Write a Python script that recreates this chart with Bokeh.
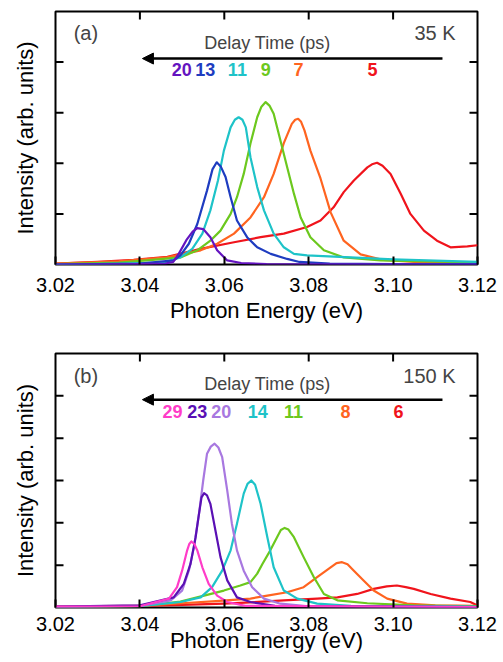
from bokeh.plotting import figure
from bokeh.layouts import column
from bokeh.models import (Range1d, FixedTicker, PrintfTickFormatter,
                          Label, Arrow, NormalHead)
from bokeh.embed import file_html
from bokeh.resources import INLINE

FONT = "Liberation Sans"

# ---------------- data: panel (a) 35 K ----------------
a_red5_x = [3.020, 3.030, 3.0385, 3.0465, 3.0544, 3.0623, 3.0686, 3.0741, 3.0796, 3.0828, 3.0859,
            3.0883, 3.0907, 3.0939, 3.0950, 3.0962, 3.0975, 3.0994, 3.1018, 3.1041, 3.1073, 3.1104,
            3.1136, 3.1176, 3.120]
a_red5_y = [0.02, 0.05, 0.09, 0.15, 0.31, 0.44, 0.54, 0.61, 0.74, 0.87, 1.13,
            1.43, 1.66, 1.92, 1.98, 2.01, 1.95, 1.79, 1.40, 1.00, 0.67, 0.47,
            0.34, 0.36, 0.38]
a_or7_x = [3.020, 3.035, 3.0465, 3.0544, 3.0583, 3.0623, 3.0662, 3.0694, 3.0717, 3.0741, 3.0760,
           3.0768, 3.0775, 3.0782, 3.0790, 3.0804, 3.0828, 3.0852, 3.0883, 3.0923, 3.0977, 3.105, 3.120]
a_or7_y = [0.02, 0.06, 0.14, 0.28, 0.41, 0.61, 0.93, 1.33, 1.79, 2.40, 2.78,
           2.86, 2.88, 2.82, 2.65, 2.25, 1.70, 1.03, 0.47, 0.20, 0.09, 0.05, 0.04]
a_gr9_x = [3.020, 3.035, 3.0417, 3.0496, 3.0536, 3.0567, 3.0591, 3.0615, 3.0630, 3.0646, 3.0662,
           3.0678, 3.0688, 3.0698, 3.0707, 3.0717, 3.0733, 3.0749, 3.0765, 3.0781, 3.0804, 3.0836,
           3.0883, 3.097, 3.120]
a_gr9_y = [0.01, 0.04, 0.08, 0.14, 0.28, 0.47, 0.67, 1.00, 1.33, 1.79, 2.39,
           2.91, 3.12, 3.21, 3.14, 2.98, 2.45, 1.92, 1.40, 0.93, 0.54, 0.28,
           0.14, 0.08, 0.04]
a_cy11_x = [3.020, 3.035, 3.0457, 3.0496, 3.0524, 3.0548, 3.0567, 3.0585, 3.0599, 3.0615, 3.0625,
            3.0634, 3.0643, 3.0651, 3.0662, 3.0678, 3.0694, 3.0717, 3.0741, 3.0765, 3.0796, 3.0899,
            3.100, 3.120]
a_cy11_y = [0.00, 0.02, 0.04, 0.14, 0.31, 0.61, 1.07, 1.66, 2.25, 2.71, 2.86,
            2.91, 2.86, 2.71, 2.12, 1.53, 1.07, 0.61, 0.34, 0.21, 0.18, 0.14,
            0.10, 0.05]
a_bl13_x = [3.020, 3.040, 3.048, 3.0496, 3.0516, 3.0536, 3.0559, 3.0572, 3.0582, 3.0592, 3.0603,
            3.0615, 3.0630, 3.0654, 3.0678, 3.0710, 3.0749, 3.0778, 3.085, 3.100, 3.120]
a_bl13_y = [0.00, 0.02, 0.08, 0.18, 0.41, 0.80, 1.46, 1.88, 2.02, 1.93, 1.73,
            1.33, 0.87, 0.54, 0.34, 0.21, 0.11, 0.05, 0.02, 0.01, 0.01]
a_pu20_x = [3.020, 3.040, 3.046, 3.0479, 3.0492, 3.0510, 3.0525, 3.0536, 3.0550, 3.0567, 3.0583,
            3.0607, 3.064, 3.070, 3.120]
a_pu20_y = [0.00, 0.01, 0.02, 0.05, 0.21, 0.48, 0.65, 0.72, 0.70, 0.54, 0.28,
            0.08, 0.03, 0.01, 0.00]

# ---------------- data: panel (b) 150 K ----------------
b_red6_x = [3.020, 3.040, 3.050, 3.060, 3.0662, 3.0741, 3.0820, 3.0868, 3.0915, 3.0954, 3.0985,
            3.1009, 3.1030, 3.1049, 3.1089, 3.1136, 3.1183, 3.120]
b_red6_y = [0.03, 0.04, 0.06, 0.09, 0.12, 0.17, 0.21, 0.24, 0.32, 0.44, 0.50,
            0.52, 0.48, 0.44, 0.32, 0.21, 0.13, 0.05]
b_or8_x = [3.020, 3.040, 3.050, 3.058, 3.0662, 3.0702, 3.0749, 3.0788, 3.0820, 3.0852, 3.0866,
           3.0879, 3.0892, 3.0907, 3.0930, 3.0954, 3.0986, 3.1033, 3.110, 3.120]
b_or8_y = [0.02, 0.04, 0.10, 0.15, 0.21, 0.28, 0.36, 0.48, 0.72, 0.95, 1.05,
           1.07, 1.02, 0.87, 0.64, 0.40, 0.21, 0.09, 0.05, 0.04]
b_gr11_x = [3.020, 3.040, 3.0496, 3.0552, 3.0599, 3.0638, 3.0662, 3.0678, 3.0690, 3.0709, 3.0725,
            3.0734, 3.0743, 3.0752, 3.0765, 3.0788, 3.0812, 3.0836, 3.0868, 3.0939, 3.105, 3.120]
b_gr11_y = [0.01, 0.03, 0.14, 0.28, 0.40, 0.52, 0.60, 0.80, 1.02, 1.35, 1.66,
            1.83, 1.88, 1.84, 1.66, 1.19, 0.72, 0.32, 0.17, 0.10, 0.05, 0.03]
b_cy14_x = [3.020, 3.040, 3.0496, 3.0544, 3.0571, 3.0595, 3.0615, 3.0630, 3.0646, 3.0655, 3.0664,
            3.0673, 3.0686, 3.0702, 3.0717, 3.0741, 3.0773, 3.0820, 3.090, 3.120]
b_cy14_y = [0.01, 0.03, 0.13, 0.24, 0.48, 0.87, 1.35, 1.98, 2.69, 2.92, 3.00,
            2.90, 2.45, 1.66, 0.95, 0.40, 0.21, 0.09, 0.04, 0.02]
b_lv20_x = [3.020, 3.040, 3.0473, 3.0500, 3.0516, 3.0528, 3.0540, 3.0550, 3.0559, 3.0568, 3.0577,
            3.0586, 3.0595, 3.0607, 3.0618, 3.0630, 3.0646, 3.0666, 3.0694, 3.0733, 3.080, 3.120]
b_lv20_y = [0.02, 0.04, 0.17, 0.40, 0.87, 1.42, 2.21, 3.00, 3.63, 3.80, 3.87,
            3.78, 3.55, 2.76, 1.98, 1.35, 0.87, 0.48, 0.21, 0.09, 0.03, 0.01]
b_pu23_x = [3.020, 3.040, 3.0480, 3.0504, 3.0520, 3.0532, 3.0540, 3.0546, 3.0552, 3.0559, 3.0567,
            3.0579, 3.0591, 3.0607, 3.0630, 3.0662, 3.072, 3.120]
b_pu23_y = [0.02, 0.05, 0.24, 0.56, 1.03, 1.66, 2.21, 2.60, 2.70, 2.65, 2.45,
            1.82, 1.19, 0.64, 0.24, 0.13, 0.04, 0.01]
b_pk29_x = [3.020, 3.040, 3.0469, 3.0488, 3.0500, 3.0512, 3.0517, 3.0522, 3.0529, 3.0536, 3.0548,
            3.0563, 3.0583, 3.0607, 3.065, 3.120]
b_pk29_y = [0.02, 0.03, 0.21, 0.48, 0.87, 1.35, 1.50, 1.56, 1.50, 1.35, 0.95,
            0.56, 0.28, 0.13, 0.04, 0.01]

x_ticks = [3.02, 3.04, 3.06, 3.08, 3.10, 3.12]
x_inner_ticks = [3.04, 3.06, 3.08, 3.10]

RED, ORANGE, GREEN, CYAN = "#f0141c", "#ff6420", "#6cc81e", "#1ec3c8"
BLUE, PURPLE, LAVENDER, DPURPLE, PINK = "#1e3cc0", "#6414c0", "#a878e0", "#5a10b4", "#ff3cc8"

a_series = [(a_red5_x, a_red5_y, RED, "5", 3.0951),
            (a_or7_x, a_or7_y, ORANGE, "7", 3.0776),
            (a_gr9_x, a_gr9_y, GREEN, "9", 3.0698),
            (a_cy11_x, a_cy11_y, CYAN, "11", 3.0631),
            (a_bl13_x, a_bl13_y, BLUE, "13", 3.0555),
            (a_pu20_x, a_pu20_y, PURPLE, "20", 3.0499)]
b_series = [(b_red6_x, b_red6_y, RED, "6", 3.1013),
            (b_or8_x, b_or8_y, ORANGE, "8", 3.0887),
            (b_gr11_x, b_gr11_y, GREEN, "11", 3.0764),
            (b_cy14_x, b_cy14_y, CYAN, "14", 3.0679),
            (b_lv20_x, b_lv20_y, LAVENDER, "20", 3.0593),
            (b_pu23_x, b_pu23_y, DPURPLE, "23", 3.0536),
            (b_pk29_x, b_pk29_y, PINK, "29", 3.0477)]

TICK_PX = 8.0


def make_panel(series, ymax, height, b_top, b_bottom, frame_h, tag, temp, ytag, ydelay, yarrow,
               ynum, tick_standoff, label_standoff):
    p = figure(width=503, height=height, output_backend="svg", toolbar_location=None,
               x_range=Range1d(3.02, 3.12), y_range=Range1d(0, ymax),
               min_border_left=55, min_border_right=26, min_border_top=b_top,
               min_border_bottom=b_bottom)
    p.xgrid.visible = False
    p.ygrid.visible = False
    p.outline_line_color = "black"
    p.outline_line_width = 2
    p.background_fill_color = "white"

    # bottom axis: real ticks and labels
    p.xaxis.ticker = FixedTicker(ticks=x_ticks)
    p.xaxis.formatter = PrintfTickFormatter(format="%.2f")
    p.xaxis.axis_label = "Photon Energy (eV)"
    p.xaxis.major_label_standoff = tick_standoff
    p.xaxis.axis_label_standoff = label_standoff
    p.xaxis.major_label_text_font_size = "20px"
    # left axis: label only, ticks drawn as inward marks below
    p.yaxis.ticker = FixedTicker(ticks=[])
    p.yaxis.axis_label = "Intensity (arb. units)"
    p.yaxis.axis_label_standoff = 18
    p.yaxis.major_label_standoff = 0
    for ax in [p.xaxis[0], p.yaxis[0]]:
        ax.axis_line_color = None
        ax.major_tick_in = 8
        ax.major_tick_out = 0
        ax.major_tick_line_width = 2
        ax.minor_tick_line_color = None
        ax.axis_label_text_font = FONT
        ax.axis_label_text_font_style = "normal"
        ax.axis_label_text_font_size = "22px"
        ax.axis_label_text_color = "black"
        ax.major_label_text_font = FONT
        ax.major_label_text_color = "black"

    # mirrored inward ticks (top, left, right), from the tick lists
    dx = TICK_PX * 0.1 / 422.0
    dy = TICK_PX * ymax / frame_h
    y_ticks = list(range(1, ymax))
    p.segment(x0=x_inner_ticks, y0=[ymax] * len(x_inner_ticks), x1=x_inner_ticks,
              y1=[ymax - dy] * len(x_inner_ticks), line_color="black", line_width=2)
    p.segment(x0=[3.02] * len(y_ticks), y0=y_ticks, x1=[3.02 + dx] * len(y_ticks), y1=y_ticks,
              line_color="black", line_width=2)
    p.segment(x0=[3.12] * len(y_ticks), y0=y_ticks, x1=[3.12 - dx] * len(y_ticks), y1=y_ticks,
              line_color="black", line_width=2)

    for xs, ys, col, lab, xl in series:
        p.line(xs, ys, line_color=col, line_width=2.2, line_join="round")

    # annotations
    p.add_layout(Label(x=3.0243, y=ytag, text=tag, text_font=FONT, text_font_size="20px",
                       text_baseline="middle", text_align="left"))
    p.add_layout(Label(x=3.1148, y=ytag, text=temp, text_font=FONT, text_font_size="20px",
                       text_baseline="middle", text_align="right"))
    p.add_layout(Label(x=3.0702, y=ydelay, text="Delay Time (ps)", text_font=FONT,
                       text_font_size="18px", text_baseline="middle", text_align="center"))
    p.add_layout(Arrow(end=NormalHead(size=11, fill_color="black", line_color="black"),
                       x_start=3.1117, y_start=yarrow, x_end=3.0406, y_end=yarrow,
                       line_width=2.5, line_color="black"))
    for xs, ys, col, lab, xl in series:
        p.add_layout(Label(x=xl, y=ynum, text=lab, text_font=FONT, text_font_size="18px",
                           text_font_style="bold", text_color=col,
                           text_baseline="middle", text_align="center"))
    return p


pa = make_panel(a_series, 5, 338, 11, 74, 253, "(a)", "35 K", 4.57, 4.37, 4.07, 3.85, 13, 3)
pb = make_panel(b_series, 6, 324, 15, 55, 254, "(b)", "150 K", 5.48, 5.27, 4.91, 4.63, 9, -6)

layout = column(pa, pb)
open("out.html", "w").write(file_html(layout, INLINE))
